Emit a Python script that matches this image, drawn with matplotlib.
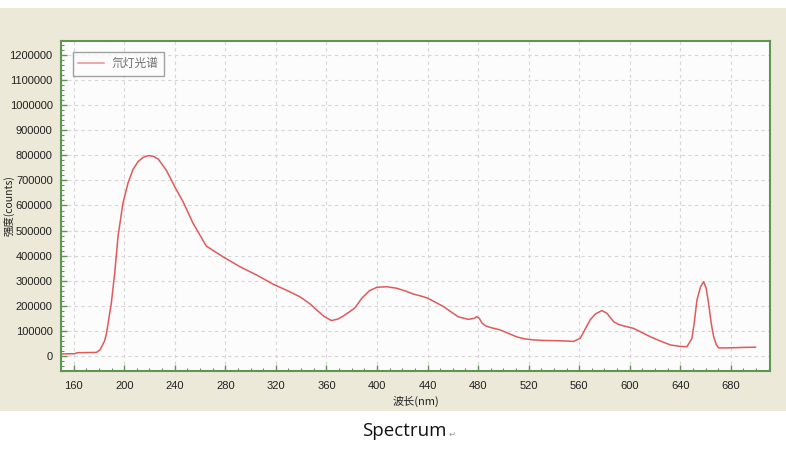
import matplotlib
matplotlib.use("Agg")
import matplotlib.pyplot as plt
from matplotlib.patches import Rectangle
from matplotlib.ticker import MultipleLocator, FuncFormatter

# ---- data ----
wavelength = [150, 161, 163, 170, 178, 181, 184.5, 186, 189.8, 192.5, 195.1, 199,
              203, 207, 211, 215, 219, 223, 227, 233.4, 240, 246.6, 254.5, 265,
              278, 291.5, 304.7, 318, 331, 339, 347, 352, 358, 364, 369, 373.3,
              378, 382.6, 388, 394, 400, 408, 415.6, 422, 428.8, 434, 439.4, 446,
              452.6, 458, 464.4, 472.3, 477, 479, 481, 483, 486, 489.5, 497.4,
              504, 510.6, 517, 523.8, 531, 539.6, 548, 555.5, 560.8, 564, 568.7,
              573, 578, 582, 587.2, 591, 595.1, 603, 609, 616.2, 624, 632.1, 640,
              645.3, 649.2, 651, 653.2, 656, 658.5, 660.5, 662.4, 664.5, 666.4,
              668.5, 670.4, 676, 682.3, 690, 699.5]
intensity = [8000, 9000, 13000, 13500, 14000, 25000, 60000, 90000, 210000, 330000,
             476000, 609000, 689000, 744000, 775000, 792000, 799000, 796000, 785000,
             740000, 675000, 615000, 529000, 438000, 396000, 356000, 323000, 286000,
             256000, 236000, 208000, 185000, 158000, 141000, 147000, 159000, 175000,
             192000, 230000, 260000, 274000, 276000, 270000, 260000, 247000, 240000,
             232000, 215000, 197000, 178000, 156000, 146000, 150000, 157000, 150000,
             132000, 120000, 114000, 104000, 90000, 76000, 68000, 64000, 62000,
             61000, 60000, 58000, 70000, 100000, 144000, 168000, 181000, 170000,
             137000, 126000, 120000, 110000, 95000, 77000, 60000, 44000, 38000,
             37000, 70000, 130000, 223000, 275000, 296000, 270000, 210000, 130000,
             77000, 45000, 32000, 32000, 33000, 34000, 35000]

series_label = "氘灯光谱"
x_label = "波长(nm)"
y_label = "强度(counts)"
caption = "Spectrum"

x_ticks = list(range(160, 681, 40))
y_ticks = list(range(0, 1200001, 100000))

# ---- figure ----
W, H = 786, 451
fig = plt.figure(figsize=(W / 100, H / 100), dpi=100)
fig.patch.set_facecolor("white")
# beige window area
fig.add_artist(Rectangle((0, (H - 411) / H), 1, (411 - 8) / H,
                         transform=fig.transFigure, facecolor="#ECE9D8",
                         edgecolor="none", zorder=0))

left, right, top, bottom = 61, 770, 41, 371
ax = fig.add_axes([left / W, (H - bottom) / H, (right - left) / W, (bottom - top) / H])
ax.set_facecolor("#FCFCFC")

ax.plot(wavelength, intensity, color="#E05A5A", lw=1.1, label=series_label, zorder=3)

ax.set_xlim(150, 711)
ax.set_ylim(-60000, 1256000)
ax.set_xticks(x_ticks)
ax.set_yticks(y_ticks)
ax.yaxis.set_major_formatter(FuncFormatter(lambda v, p: f"{int(round(v))}"))
ax.xaxis.set_minor_locator(MultipleLocator(10))
ax.yaxis.set_minor_locator(MultipleLocator(20000))

green = "#5E9552"
for s in ax.spines.values():
    s.set_color(green)
    s.set_linewidth(1.5)

ax.tick_params(which="major", direction="in", length=4, color=green, width=1,
               pad=6, labelsize=8, labelcolor="#222222")
ax.tick_params(axis="x", which="major", pad=7)
ax.tick_params(which="minor", direction="in", length=2, color=green, width=0.8)
for lab in ax.get_xticklabels() + ax.get_yticklabels():
    lab.set_fontfamily("Liberation Sans")

ax.grid(True, which="major", color="#D6D6D6", linestyle=(0, (3, 3)), linewidth=0.8)
ax.set_axisbelow(True)

cjk = ["Noto Sans CJK SC", "DejaVu Sans"]
ax.set_xlabel(x_label, fontfamily=cjk, fontsize=8, color="#222222", labelpad=4)
ax.set_ylabel(y_label, fontfamily=cjk, fontsize=7.5, color="#222222")
ax.yaxis.set_label_coords((15 - left) / (right - left), 0.5)

leg = ax.legend(loc="upper left", bbox_to_anchor=(12 / 709, 1 - 11 / 330),
                borderaxespad=0, frameon=True, fancybox=False,
                prop={"family": cjk, "size": 8.5}, labelcolor="#707070",
                handlelength=2.2, borderpad=0.45, handletextpad=0.6)
leg.get_frame().set_edgecolor("#8A8A8A")
leg.get_frame().set_linewidth(1.0)
leg.get_frame().set_facecolor("#FCFCFC")
for ln in leg.get_lines():
    ln.set_color("#E89090")

fig.text(404 / W, 1 - 431 / H, caption, fontfamily="Open Sans", fontsize=13.5,
         ha="center", va="center", color="#111111")
fig.text(452 / W, 1 - 434 / H, "\u21b5", fontfamily="DejaVu Sans", fontsize=6,
         ha="center", va="center", color="#999999")

fig.savefig("out.png", dpi=100, facecolor=fig.get_facecolor())
